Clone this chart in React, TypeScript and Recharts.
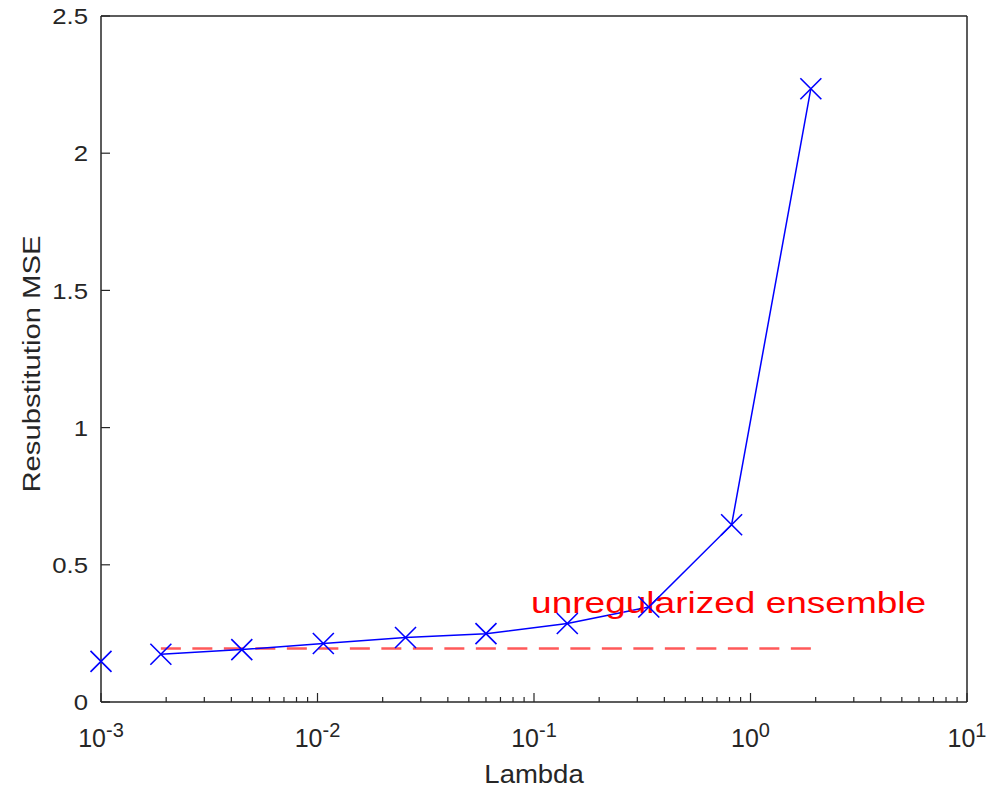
import React from 'react';
import { ComposedChart, Line, Scatter, XAxis, YAxis } from 'recharts';

// values
const lambdaValues = [0.001, 0.00189, 0.00447, 0.01064, 0.0255, 0.06, 0.1425, 0.339, 0.818, 1.9];
const mseValues = [0.148, 0.174, 0.191, 0.213, 0.235, 0.249, 0.286, 0.346, 0.646, 2.235];
const unregularizedMse = 0.195;

const xTickValues = [0.001, 0.01, 0.1, 1, 10];
const xTickExponents = ['-3', '-2', '-1', '0', '1'];
const yTickValues = [0, 0.5, 1, 1.5, 2, 2.5];
const yTickLabels = ['0', '0.5', '1', '1.5', '2', '2.5'];

const annotationText = 'unregularized ensemble';
const annotationLambda = 0.097;
const annotationMse = 0.35;

const xLabel = 'Lambda';
const yLabel = 'Resubstitution MSE';

// minor log ticks 2..9 of each decade
const minorXTicks = xTickValues
  .slice(0, -1)
  .flatMap((d) => [2, 3, 4, 5, 6, 7, 8, 9].map((m) => Number((d * m).toPrecision(3))));
const allXTicks = [...xTickValues, ...minorXTicks].sort((a, b) => a - b);

const pointData = lambdaValues.map((lambda, i) => ({ lambda, mse: mseValues[i] }));
// first point (lambda = 0 moved to 1e-3) is drawn as a marker only
const lineData = pointData.slice(1);
const baselineData = [
  { lambda: lambdaValues[1], mse: unregularizedMse },
  { lambda: lambdaValues[lambdaValues.length - 1], mse: unregularizedMse },
];
const annotationData = [{ lambda: annotationLambda, mse: annotationMse }];

const AXIS = '#262626';
const FONT = '"Liberation Sans", Arial, Helvetica, sans-serif';

function BottomTick({ x, y, payload }: any) {
  const i = xTickValues.indexOf(payload.value);
  const major = i >= 0;
  return (
    <g>
      <line x1={x} x2={x} y1={y} y2={y - (major ? 9 : 5)} stroke={AXIS} strokeWidth={1.2} />
      {major && (
        <text x={x} y={y + 45} textAnchor="middle" fontSize={25} fill={AXIS} fontFamily={FONT}>
          <tspan>10</tspan>
          <tspan dy={-10} fontSize={20}>
            {xTickExponents[i]}
          </tspan>
        </text>
      )}
    </g>
  );
}

function TopTick({ x, y, payload }: any) {
  const major = xTickValues.includes(payload.value);
  return <line x1={x} x2={x} y1={y} y2={y + (major ? 9 : 5)} stroke={AXIS} strokeWidth={1.2} />;
}

function LeftTick({ x, y, payload }: any) {
  const i = yTickValues.indexOf(payload.value);
  return (
    <g>
      <line x1={x} x2={x + 9} y1={y} y2={y} stroke={AXIS} strokeWidth={1.2} />
      <text
        transform={`translate(${x - 13},${y}) scale(1.12,1)`}
        dy="0.36em"
        textAnchor="end"
        fontSize={23}
        fill={AXIS}
        fontFamily={FONT}
      >
        {yTickLabels[i]}
      </text>
    </g>
  );
}

function RightTick({ x, y }: any) {
  return <line x1={x} x2={x - 9} y1={y} y2={y} stroke={AXIS} strokeWidth={1.2} />;
}

function XTitle({ viewBox }: any) {
  const cx = viewBox.x + viewBox.width / 2;
  return (
    <text
      transform={`translate(${cx},${viewBox.y + 81}) scale(1.1,1)`}
      textAnchor="middle"
      fontSize={25}
      fill={AXIS}
      fontFamily={FONT}
    >
      {xLabel}
    </text>
  );
}

function YTitle({ viewBox }: any) {
  const cy = viewBox.y + viewBox.height / 2;
  return (
    <text
      transform={`translate(40,${cy + 5}) rotate(-90) scale(1.22,1)`}
      textAnchor="middle"
      fontSize={24}
      fill={AXIS}
      fontFamily={FONT}
    >
      {yLabel}
    </text>
  );
}

function XMarker({ cx, cy }: any) {
  const s = 10.5;
  return (
    <path
      d={`M${cx - s},${cy - s}L${cx + s},${cy + s}M${cx - s},${cy + s}L${cx + s},${cy - s}`}
      stroke="#0000ff"
      strokeWidth={1.6}
      fill="none"
    />
  );
}

function Annotation({ cx, cy }: any) {
  return (
    <text
      x={cx}
      y={cy}
      dy="0.25em"
      fontSize={30}
      fill="#ff0000"
      fontFamily={FONT}
      textLength={395}
      lengthAdjust="spacingAndGlyphs"
    >
      {annotationText}
    </text>
  );
}

export default function App() {
  return (
    <div style={{ position: 'absolute', left: 0, top: 0, width: 988, height: 788, background: '#fff' }}>
      <ComposedChart width={988} height={788} margin={{ top: 0, right: 0, bottom: 0, left: 0 }}>
        <XAxis
          dataKey="lambda"
          type="number"
          scale="log"
          domain={[0.001, 10]}
          ticks={allXTicks}
          interval={0}
          tick={<BottomTick />}
          tickLine={false}
          tickSize={0}
          tickMargin={0}
          height={86}
          axisLine={{ stroke: AXIS, strokeWidth: 1.5 }}
          label={<XTitle />}
        />
        <XAxis
          xAxisId="top"
          orientation="top"
          type="number"
          scale="log"
          domain={[0.001, 10]}
          ticks={allXTicks}
          interval={0}
          tick={<TopTick />}
          tickLine={false}
          tickSize={0}
          tickMargin={0}
          height={16}
          axisLine={{ stroke: AXIS, strokeWidth: 1.5 }}
        />
        <YAxis
          dataKey="mse"
          type="number"
          domain={[0, 2.5]}
          ticks={yTickValues}
          interval={0}
          tick={<LeftTick />}
          tickLine={false}
          tickSize={0}
          tickMargin={0}
          width={101}
          axisLine={{ stroke: AXIS, strokeWidth: 1.5 }}
          label={<YTitle />}
        />
        <YAxis
          yAxisId="right"
          orientation="right"
          type="number"
          domain={[0, 2.5]}
          ticks={yTickValues}
          interval={0}
          tick={<RightTick />}
          tickLine={false}
          tickSize={0}
          tickMargin={0}
          width={21}
          axisLine={{ stroke: AXIS, strokeWidth: 1.5 }}
        />
        <Scatter data={annotationData} dataKey="mse" shape={<Annotation />} isAnimationActive={false} />
        <Line
          data={baselineData}
          dataKey="mse"
          type="linear"
          stroke="#ff0000"
          strokeOpacity={0.65}
          strokeWidth={2.5}
          strokeDasharray="20 11.5"
          dot={false}
          activeDot={false}
          isAnimationActive={false}
        />
        <Line
          data={lineData}
          dataKey="mse"
          type="linear"
          stroke="#0000ff"
          strokeWidth={1.5}
          dot={false}
          activeDot={false}
          isAnimationActive={false}
        />
        <Scatter data={pointData} dataKey="mse" shape={<XMarker />} isAnimationActive={false} />
      </ComposedChart>
    </div>
  );
}
